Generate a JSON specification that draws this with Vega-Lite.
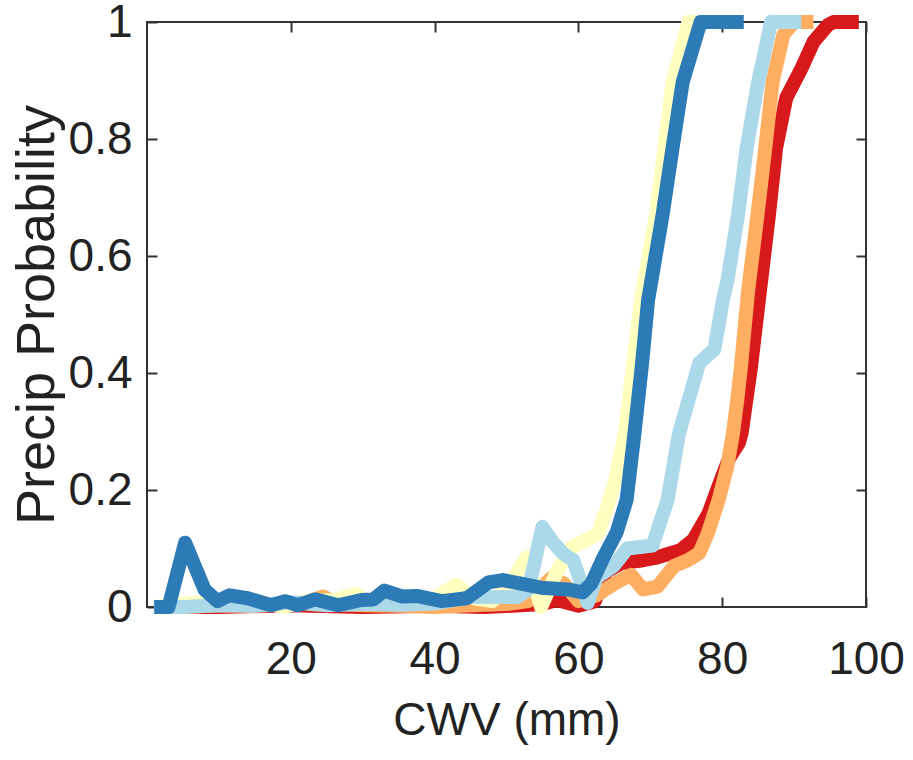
{
  "$schema": "https://vega.github.io/schema/vega-lite/v6.json",
  "width": 719,
  "height": 585,
  "autosize": {"type": "none"},
  "padding": {"left": 147, "top": 22, "right": 47, "bottom": 153},
  "background": "white",
  "config": {
    "view": {"stroke": "#333333", "strokeWidth": 2},
    "axis": {
      "grid": false,
      "domain": false,
      "ticks": true,
      "tickSize": -10,
      "tickWidth": 2,
      "tickColor": "#333333",
      "labelFont": "Liberation Sans",
      "labelFontSize": 46,
      "labelColor": "#222222",
      "labelFlush": false,
      "labelOverlap": false,
      "titleColor": "#222222",
      "titleFontWeight": "normal"
    },
    "line": {"strokeWidth": 14, "strokeCap": "butt", "strokeJoin": "round"}
  },
  "datasets": {
    "red": [
      {"cwv": 1, "p": 0}, {"cwv": 10, "p": 0}, {"cwv": 20, "p": 0.003}, {"cwv": 30, "p": 0}, {"cwv": 40, "p": 0.002},
      {"cwv": 47, "p": 0}, {"cwv": 52, "p": 0.003}, {"cwv": 55, "p": 0.005}, {"cwv": 57, "p": 0.012}, {"cwv": 60, "p": 0.002},
      {"cwv": 62.3, "p": 0.01}, {"cwv": 63.8, "p": 0.06}, {"cwv": 66, "p": 0.075}, {"cwv": 69, "p": 0.08}, {"cwv": 71, "p": 0.085},
      {"cwv": 74.2, "p": 0.097}, {"cwv": 76, "p": 0.115}, {"cwv": 78.1, "p": 0.16}, {"cwv": 79.8, "p": 0.217}, {"cwv": 81, "p": 0.255},
      {"cwv": 82.3, "p": 0.28}, {"cwv": 82.7, "p": 0.297}, {"cwv": 84, "p": 0.41}, {"cwv": 85.1, "p": 0.525}, {"cwv": 86.5, "p": 0.67},
      {"cwv": 87.5, "p": 0.785}, {"cwv": 88.9, "p": 0.87}, {"cwv": 91, "p": 0.92}, {"cwv": 92.7, "p": 0.966}, {"cwv": 94.7, "p": 0.995},
      {"cwv": 95.5, "p": 1}, {"cwv": 99, "p": 1}
    ],
    "orange": [
      {"cwv": 1, "p": 0}, {"cwv": 5, "p": 0}, {"cwv": 10, "p": 0.003}, {"cwv": 15, "p": 0.002}, {"cwv": 20, "p": 0.005},
      {"cwv": 22.5, "p": 0.01}, {"cwv": 24.5, "p": 0.018}, {"cwv": 26.5, "p": 0.005}, {"cwv": 30, "p": 0.003}, {"cwv": 35, "p": 0.002},
      {"cwv": 40, "p": 0}, {"cwv": 45, "p": 0.003}, {"cwv": 50, "p": 0.005}, {"cwv": 53, "p": 0.01}, {"cwv": 54.5, "p": 0.03},
      {"cwv": 56.3, "p": 0.05}, {"cwv": 58, "p": 0.04}, {"cwv": 60, "p": 0.01}, {"cwv": 62.5, "p": 0.02}, {"cwv": 65, "p": 0.04},
      {"cwv": 67.3, "p": 0.055}, {"cwv": 69, "p": 0.03}, {"cwv": 71, "p": 0.035}, {"cwv": 73.3, "p": 0.07}, {"cwv": 75.2, "p": 0.08},
      {"cwv": 76.8, "p": 0.092}, {"cwv": 78, "p": 0.126}, {"cwv": 79.5, "p": 0.183}, {"cwv": 80.7, "p": 0.24}, {"cwv": 81.5, "p": 0.297},
      {"cwv": 82.1, "p": 0.354}, {"cwv": 82.6, "p": 0.41}, {"cwv": 83.6, "p": 0.54}, {"cwv": 84.9, "p": 0.67}, {"cwv": 86, "p": 0.785},
      {"cwv": 87, "p": 0.897}, {"cwv": 88.5, "p": 0.978}, {"cwv": 90, "p": 1}, {"cwv": 92.7, "p": 1}
    ],
    "yellow": [
      {"cwv": 1, "p": 0}, {"cwv": 5, "p": 0.005}, {"cwv": 10, "p": 0.01}, {"cwv": 15, "p": 0.01}, {"cwv": 19, "p": 0},
      {"cwv": 22, "p": 0.01}, {"cwv": 26, "p": 0.012}, {"cwv": 29, "p": 0.022}, {"cwv": 31.5, "p": 0.005}, {"cwv": 35, "p": 0.01},
      {"cwv": 38, "p": 0.005}, {"cwv": 40, "p": 0.015}, {"cwv": 43, "p": 0.038}, {"cwv": 45.5, "p": 0.015}, {"cwv": 48, "p": 0.01},
      {"cwv": 50, "p": 0.03}, {"cwv": 52.8, "p": 0.085}, {"cwv": 54.8, "p": 0}, {"cwv": 57, "p": 0.06}, {"cwv": 58.8, "p": 0.1},
      {"cwv": 60.3, "p": 0.11}, {"cwv": 62.7, "p": 0.125}, {"cwv": 64, "p": 0.17}, {"cwv": 65.2, "p": 0.22}, {"cwv": 66.5, "p": 0.3},
      {"cwv": 68.7, "p": 0.525}, {"cwv": 70.8, "p": 0.67}, {"cwv": 73.1, "p": 0.897}, {"cwv": 75.3, "p": 1}, {"cwv": 80, "p": 1}
    ],
    "lightblue": [
      {"cwv": 1, "p": 0}, {"cwv": 5, "p": 0}, {"cwv": 10, "p": 0.003}, {"cwv": 15, "p": 0.002}, {"cwv": 20, "p": 0.008},
      {"cwv": 25, "p": 0.003}, {"cwv": 30, "p": 0.005}, {"cwv": 35, "p": 0.004}, {"cwv": 40, "p": 0.006}, {"cwv": 45, "p": 0.017},
      {"cwv": 49, "p": 0.017}, {"cwv": 51.5, "p": 0.017}, {"cwv": 53, "p": 0.03}, {"cwv": 53.8, "p": 0.07}, {"cwv": 55, "p": 0.137},
      {"cwv": 56.5, "p": 0.11}, {"cwv": 58, "p": 0.09}, {"cwv": 59.3, "p": 0.08}, {"cwv": 61.3, "p": 0.007}, {"cwv": 62.5, "p": 0.05},
      {"cwv": 64.9, "p": 0.07}, {"cwv": 66.8, "p": 0.1}, {"cwv": 70.3, "p": 0.105}, {"cwv": 72.4, "p": 0.183}, {"cwv": 74, "p": 0.297},
      {"cwv": 76.8, "p": 0.417}, {"cwv": 78.9, "p": 0.44}, {"cwv": 80.1, "p": 0.525}, {"cwv": 80.7, "p": 0.556}, {"cwv": 82.2, "p": 0.67},
      {"cwv": 83.4, "p": 0.785}, {"cwv": 85, "p": 0.897}, {"cwv": 86.8, "p": 1}, {"cwv": 91, "p": 1}
    ],
    "darkblue": [
      {"cwv": 1, "p": 0}, {"cwv": 3, "p": 0}, {"cwv": 5.3, "p": 0.11}, {"cwv": 8, "p": 0.03}, {"cwv": 9.8, "p": 0.01},
      {"cwv": 11.5, "p": 0.02}, {"cwv": 14, "p": 0.015}, {"cwv": 17.3, "p": 0.003}, {"cwv": 19.2, "p": 0.01}, {"cwv": 21, "p": 0.003},
      {"cwv": 23.4, "p": 0.013}, {"cwv": 26.6, "p": 0.003}, {"cwv": 29.8, "p": 0.012}, {"cwv": 31.5, "p": 0.013}, {"cwv": 33, "p": 0.028},
      {"cwv": 35.5, "p": 0.018}, {"cwv": 37.5, "p": 0.019}, {"cwv": 41, "p": 0.01}, {"cwv": 44.5, "p": 0.015}, {"cwv": 47.5, "p": 0.042},
      {"cwv": 49.5, "p": 0.046}, {"cwv": 54.8, "p": 0.033}, {"cwv": 58.5, "p": 0.03}, {"cwv": 60.6, "p": 0.025}, {"cwv": 61.8, "p": 0.04},
      {"cwv": 63.5, "p": 0.085}, {"cwv": 65.3, "p": 0.127}, {"cwv": 66.7, "p": 0.183}, {"cwv": 67.8, "p": 0.297}, {"cwv": 68.8, "p": 0.41},
      {"cwv": 69.7, "p": 0.525}, {"cwv": 71.7, "p": 0.67}, {"cwv": 73.1, "p": 0.785}, {"cwv": 74.5, "p": 0.897}, {"cwv": 75.3, "p": 0.93},
      {"cwv": 77, "p": 1}, {"cwv": 83, "p": 1}
    ]
  },
  "resolve": {"axis": {"x": "independent", "y": "independent"}},
  "layer": [
    {
      "data": {"name": "red"},
      "mark": {"type": "line", "color": "#d7191c"},
      "encoding": {
        "x": {"field": "cwv", "type": "quantitative", "scale": {"domain": [0, 100], "nice": false, "zero": false},
          "axis": {"orient": "bottom", "values": [20, 40, 60, 80, 100], "title": "CWV (mm)", "titleFont": "Liberation Sans", "titleFontSize": 46, "labelPadding": 40, "titlePadding": 16}},
        "y": {"field": "p", "type": "quantitative", "scale": {"domain": [0, 1], "nice": false, "zero": false},
          "axis": {"orient": "left", "values": [0, 0.2, 0.4, 0.6, 0.8, 1], "format": ".1~f", "title": "Precip Probability", "titleFont": "Liberation Sans", "titleFontSize": 54, "labelPadding": 25, "titlePadding": 4}}
      }
    },
    {
      "data": {"name": "orange"},
      "mark": {"type": "line", "color": "#fdae61"},
      "encoding": {
        "x": {"field": "cwv", "type": "quantitative", "scale": {"domain": [0, 100], "nice": false, "zero": false},
          "axis": {"orient": "top", "values": [20, 40, 60, 80, 100], "labels": false, "title": null}},
        "y": {"field": "p", "type": "quantitative", "scale": {"domain": [0, 1], "nice": false, "zero": false},
          "axis": {"orient": "right", "values": [0.2, 0.4, 0.6, 0.8], "labels": false, "title": null}}
      }
    },
    {
      "data": {"name": "yellow"},
      "mark": {"type": "line", "color": "#ffffbf"},
      "encoding": {
        "x": {"field": "cwv", "type": "quantitative", "axis": null},
        "y": {"field": "p", "type": "quantitative", "axis": null}
      }
    },
    {
      "data": {"name": "lightblue"},
      "mark": {"type": "line", "color": "#abd9e9"},
      "encoding": {
        "x": {"field": "cwv", "type": "quantitative", "axis": null},
        "y": {"field": "p", "type": "quantitative", "axis": null}
      }
    },
    {
      "data": {"name": "darkblue"},
      "mark": {"type": "line", "color": "#2c7bb6"},
      "encoding": {
        "x": {"field": "cwv", "type": "quantitative", "axis": null},
        "y": {"field": "p", "type": "quantitative", "axis": null}
      }
    }
  ]
}
